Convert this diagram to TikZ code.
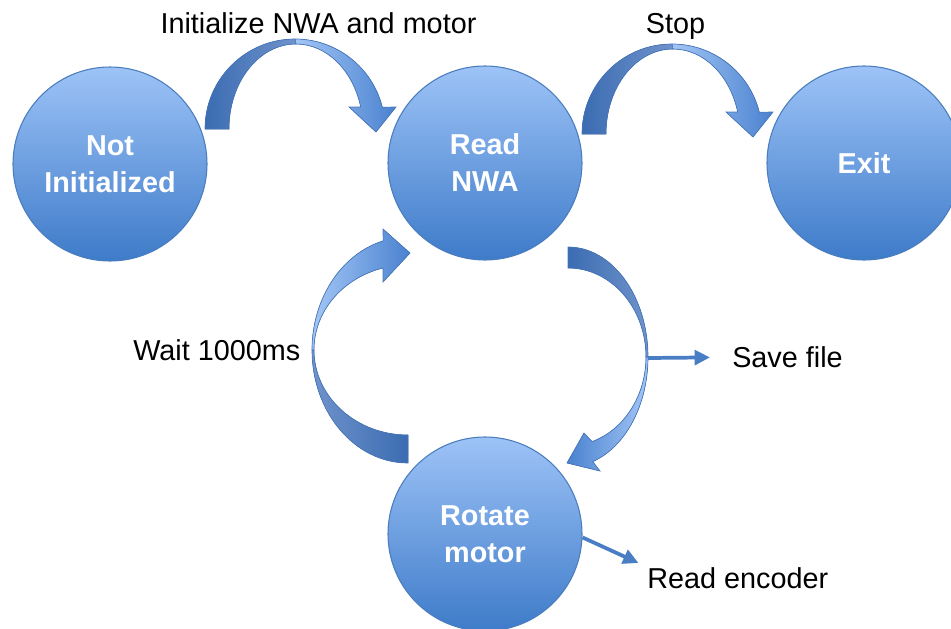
\documentclass[tikz,border=0pt]{standalone}
\usepackage{fontspec}
\setmainfont{Liberation Sans}
\usepackage{tikz}
\usetikzlibrary{arrows.meta, positioning}

\definecolor{circtop}{HTML}{9DC3F7}
\definecolor{circbot}{HTML}{3E7BC9}
\definecolor{circedge}{HTML}{4A7DBD}
\definecolor{arrdark}{HTML}{3B6CB2}
\definecolor{arrmid}{HTML}{7093CB}
\definecolor{arrlight}{HTML}{A3C6F6}
\definecolor{arrhead}{HTML}{4A82CF}
\definecolor{arredge}{HTML}{4677BC}
\definecolor{linecol}{HTML}{4A7EC4}

\begin{document}
\begin{tikzpicture}[
        x=0.75pt, y=-0.75pt,
        state/.style={circle, draw=circedge, line width=0.8pt,
            top color=circtop, bottom color=circbot,
            minimum size=145.5pt, inner sep=0pt, align=center,
            text=white, font={\fontsize{21.6}{27.8}\selectfont\bfseries}},
        note/.style={inner sep=0pt, font={\fontsize{21.6}{26}\selectfont}},
        curlband/.style={draw=arredge, line width=0.5pt},
        small/.style={-{Triangle[length=11.5pt,width=11pt]}, line width=2.8pt, draw=linecol}
    ]
        \clip (0,0) rectangle (951,629);

        % States
        \node[state] (ni) at (110,164) {Not\\Initialized};
        \node[state] (rn) at (485,163) {Read\\NWA};
        \node[state] (ex) at (864,163) {Exit};
        \node[state] (rm) at (485,534) {Rotate\\motor};

        % Initialize arrow
        \filldraw[curlband, left color=arrdark, right color=arrmid] (205,129) arc[start angle=180, end angle=270, x radius=90, y radius=90]
            -- (296,44) arc[start angle=270, end angle=180, x radius=67, y radius=85] -- cycle;
        \filldraw[curlband, left color=arrlight, right color=arrhead] (295,39) arc[start angle=270, end angle=346, x radius=90, y radius=90]
            -- (396,107) -- (376,132) -- (349,107) -- (360.7,107)
            arc[start angle=345, end angle=270, x radius=67, y radius=85] -- cycle;

        % Stop arrow
        \begin{scope}[shift={(377,5)}]
            \filldraw[curlband, left color=arrdark, right color=arrmid] (205,129) arc[start angle=180, end angle=270, x radius=90, y radius=90]
                -- (296,44) arc[start angle=270, end angle=180, x radius=67, y radius=85] -- cycle;
            \filldraw[curlband, left color=arrlight, right color=arrhead] (295,39) arc[start angle=270, end angle=346, x radius=90, y radius=90]
                -- (396,107) -- (376,132) -- (349,107) -- (360.7,107)
                arc[start angle=345, end angle=270, x radius=67, y radius=85] -- cycle;
        \end{scope}

        % Wait arrow
        \filldraw[curlband, left color=arrmid, right color=arrdark] (408,463) arc[start angle=90, end angle=180, x radius=96, y radius=113]
            -- (314,350) arc[start angle=180, end angle=90, x radius=94, y radius=85] -- cycle;
        \filldraw[curlband, left color=arrlight, right color=arrhead] (312,350) arc[start angle=180, end angle=255, x radius=96, y radius=113]
            -- (383,229) -- (410,253) -- (383,282) -- (383,268)
            arc[start angle=254.6, end angle=180, x radius=94, y radius=85] -- cycle;

        % Save arrow
        \filldraw[curlband, left color=arrdark, right color=arrmid] (568,247) arc[start angle=270, end angle=360, x radius=80, y radius=110]
            -- (646,357) arc[start angle=360, end angle=270, x radius=78, y radius=89] -- cycle;
        \filldraw[curlband, left color=arrhead, right color=arrlight] (648,357) arc[start angle=0, end angle=72, x radius=80, y radius=110]
            -- (600,471) -- (567,463) -- (584,433) -- (592.1,441.6)
            arc[start angle=72, end angle=0, x radius=78, y radius=89] -- cycle;

        % Labels
        \node[note, anchor=base] (init) at (318.5,33.5) {Initialize NWA and motor};
        \node[note, anchor=base] (stop) at (675.5,33.5) {Stop};
        \node[note, anchor=base west] (wait) at (133,360) {Wait 1000ms};
        \node[note, anchor=base west] (save) at (732,367.5) {Save file};
        \node[note, anchor=base west] (enc) at (647,588) {Read encoder};

        % Side outputs
        \coordinate (savefrom) at (648,358);
        \draw[small, shorten >=16.5pt] (savefrom) -- (save.west);
        \draw[small, shorten >=7pt] (rm.-2) -- (enc.north west);

    \end{tikzpicture}
\end{document}
